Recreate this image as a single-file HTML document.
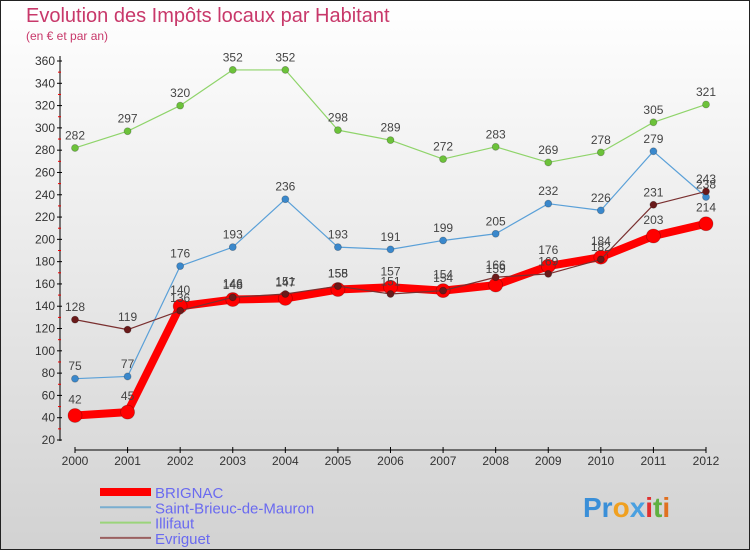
<!DOCTYPE html>
<html><head><meta charset="utf-8"><style>
html,body{margin:0;padding:0}
body{width:750px;height:550px;overflow:hidden;font-family:"Liberation Sans",sans-serif}
#c{position:absolute;left:0;top:0;width:748px;height:548px;border:1px solid #222;background:linear-gradient(#ffffff,#d2d2d2)}
</style></head><body>
<div id="c">
<svg id="s" width="750" height="550" style="position:absolute;left:-1px;top:-1px">
<text x="26" y="22" font-size="20" fill="#c8386a">Evolution des Impôts locaux par Habitant</text>
<text x="26" y="40" font-size="12" fill="#c8386a">(en € et par an)</text>
<g id="axes"></g>
<g id="series"></g>
<g id="legend"></g>
<text x="583" y="517" font-size="28" font-weight="bold"><tspan fill="#3a8fd8">Pr</tspan><tspan fill="#f0a020">o</tspan><tspan fill="#4aa0e0">x</tspan><tspan fill="#e03030">i</tspan><tspan fill="#60b040">t</tspan><tspan fill="#e07020">i</tspan></text>
</svg>
</div>
<script>
const years=[2000,2001,2002,2003,2004,2005,2006,2007,2008,2009,2010,2011,2012];
const yTicks=[20,40,60,80,100,120,140,160,180,200,220,240,260,280,300,320,340,360];
const brignac=[42,45,140,146,147,155,157,154,159,176,184,203,214];
const saintBrieuc=[75,77,176,193,236,193,191,199,205,232,226,279,238];
const illifaut=[282,297,320,352,352,298,289,272,283,269,278,305,321];
const evriguet=[128,119,136,148,151,158,151,154,166,169,182,231,243];
const NS="http://www.w3.org/2000/svg";
const x=i=>75+i*(706-75)/(years.length-1);
const y=v=>440-(v-20)*(440-61)/340;
function mk(t,a,p){const e=document.createElementNS(NS,t);for(const k in a)e.setAttribute(k,a[k]);(p||document.getElementById('series')).appendChild(e);return e;}
const ax=document.getElementById('axes');
let e=mk('line',{x1:60,y1:56,x2:60,y2:441,stroke:'#000','stroke-width':1},ax);


e=mk('line',{x1:75,y1:450,x2:706,y2:450,stroke:'#000','stroke-width':1},ax);


yTicks.forEach(v=>{
 mk('line',{x1:57,y1:y(v),x2:62,y2:y(v),stroke:'#000'},ax);
 if(v<360)mk('line',{x1:58,y1:y(v+10),x2:61,y2:y(v+10),stroke:'#e00'},ax);
 const t=mk('text',{x:55,y:y(v)+4,'font-size':12,fill:'#333','text-anchor':'end'},ax);
 t.textContent=v;
 
 
});
years.forEach((yr,i)=>{
 mk('line',{x1:x(i),y1:447,x2:x(i),y2:453,stroke:'#000'},ax);
 const t=mk('text',{x:x(i),y:465,'font-size':12,fill:'#333','text-anchor':'middle'},ax);
 t.textContent=yr;
 
 
});
const series=[
 {d:illifaut,c:'#8fd46a',f:'#6cc23a',w:1.2,r:3.5,n:'illifaut'},
 {d:saintBrieuc,c:'#5aa0d8',f:'#3a88cc',w:1.2,r:3.5,n:'saint-brieuc-de-mauron'},
 {d:brignac,c:'#ff0000',f:'#ff0000',w:8,r:7,n:'brignac'},
 {d:evriguet,c:'#7a3030',f:'#6a1a1a',w:1.2,r:3.5,n:'evriguet'}
];
series.forEach(s=>{
 const p=mk('polyline',{points:s.d.map((v,i)=>x(i)+','+y(v)).join(' '),fill:'none',stroke:s.c,'stroke-width':s.w,'stroke-linejoin':'round'});
 
 
 s.d.forEach((v,i)=>{
  const c=mk('circle',{cx:x(i),cy:y(v),r:s.r,fill:s.f,stroke:'rgba(0,0,0,0.25)','stroke-width':0.8});
  
  
  const t=mk('text',{x:x(i),y:y(v)-(s.r+5),'font-size':12,fill:'#444','text-anchor':'middle'});
  t.textContent=v;
  
  
 });
});
const lg=document.getElementById('legend');
[['BRIGNAC','#ff0000',8],['Saint-Brieuc-de-Mauron','#7aaed0',2],['Illifaut','#9ad47a',2],['Evriguet','#9a6060',2]].forEach((l,i)=>{
 const yy=492+i*15.3;
 const ln=mk('line',{x1:100,y1:yy,x2:151,y2:yy,stroke:l[1],'stroke-width':l[2]},lg);
 
 
 const t=mk('text',{x:155,y:yy+6,'font-size':15,fill:'#6a6af0'},lg);
 t.textContent=l[0];
 
 
});
</script>
</body></html>
